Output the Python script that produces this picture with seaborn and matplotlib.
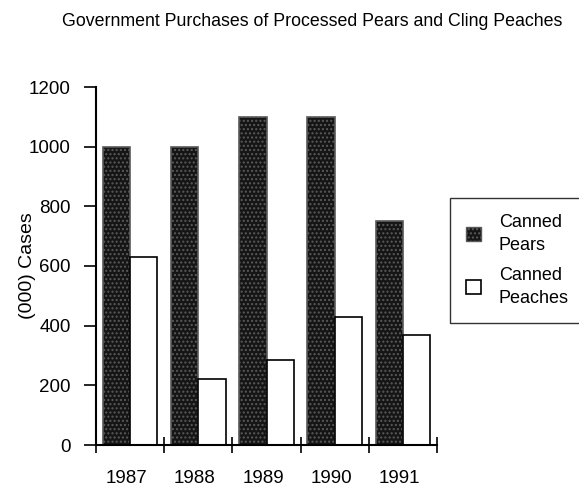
import pandas as pd
import matplotlib
matplotlib.use("Agg")
import matplotlib.pyplot as plt
from matplotlib.patches import Patch
import seaborn as sns

years = ["1987", "1988", "1989", "1990", "1991"]
pears = [1000, 1000, 1100, 1100, 750]
peaches = [630, 220, 285, 430, 370]
series = ["Canned Pears", "Canned Peaches"]
y_ticks = [0, 200, 400, 600, 800, 1000, 1200]

df = pd.DataFrame({
    "year": years * 2,
    "cases": pears + peaches,
    "product": [series[0]] * len(years) + [series[1]] * len(years),
})

sns.set_style("white")
plt.rcParams["font.family"] = ["Liberation Sans Narrow", "Liberation Sans", "DejaVu Sans"]
plt.rcParams["text.color"] = "black"
plt.rcParams["xtick.color"] = "black"
plt.rcParams["ytick.color"] = "black"
plt.rcParams["axes.labelcolor"] = "black"

fig = plt.figure(figsize=(5.79, 4.9), dpi=100)
ax = fig.add_axes([96 / 579, 1 - 445 / 490, 341 / 579, 358 / 490])

sns.barplot(data=df, x="year", y="cases", hue="product", order=years,
            hue_order=series, palette=["#151515", "white"], width=0.8,
            edgecolor="black", linewidth=1.2, saturation=1, legend=False, ax=ax)

# speckled texture on the dark bars
for p in ax.patches[:len(years)]:
    p.set_hatch("....")
    p.set_edgecolor("#5a5a5a")

ax.set_xlim(-0.5, len(years) - 0.5)
ax.set_ylim(0, 1200)
ax.set_yticks(y_ticks)
ax.set_yticklabels([str(v) for v in y_ticks], fontsize=13.5)
ax.set_xticks([i - 0.05 for i in range(len(years))])
ax.set_xticklabels(years, fontsize=13.5)
ax.set_xticks([i - 0.5 for i in range(len(years) + 1)], minor=True)
ax.tick_params(axis="x", which="major", bottom=False, length=0, pad=18)
ax.tick_params(axis="x", which="minor", bottom=True, direction="inout", length=12,
               width=1.2, color="black")
ax.tick_params(axis="y", direction="out", length=9, width=1.2, color="black", pad=9, left=True)

for s in ["top", "right"]:
    ax.spines[s].set_visible(False)
for s in ["left", "bottom"]:
    ax.spines[s].set_color("black")
    ax.spines[s].set_linewidth(1.5)

ax.set_xlabel("")
ax.set_ylabel("(000) Cases", fontsize=14)
ax.yaxis.set_label_coords(-0.175, 0.5)

fig.text(0.54, 1 - 22 / 490, "Government Purchases of Processed Pears and Cling Peaches",
         ha="center", va="center", fontsize=12.8)

handles = [
    Patch(facecolor="#151515", edgecolor="#5a5a5a", hatch="...."),
    Patch(facecolor="white", edgecolor="black", linewidth=1.2),
]
leg = fig.legend(handles, ["Canned\nPears", "Canned\nPeaches"], loc="upper left",
                 bbox_to_anchor=(450 / 579, 1 - 198 / 490), fontsize=13,
                 frameon=True, fancybox=False, edgecolor="black", borderpad=0.9,
                 handlelength=0.8, handleheight=0.8, handletextpad=1.0,
                 labelspacing=0.7, borderaxespad=0)
for t in leg.get_texts():
    t.set_linespacing(1.45)
leg.get_frame().set_linewidth(1.0)

fig.savefig("out.png", dpi=100)
